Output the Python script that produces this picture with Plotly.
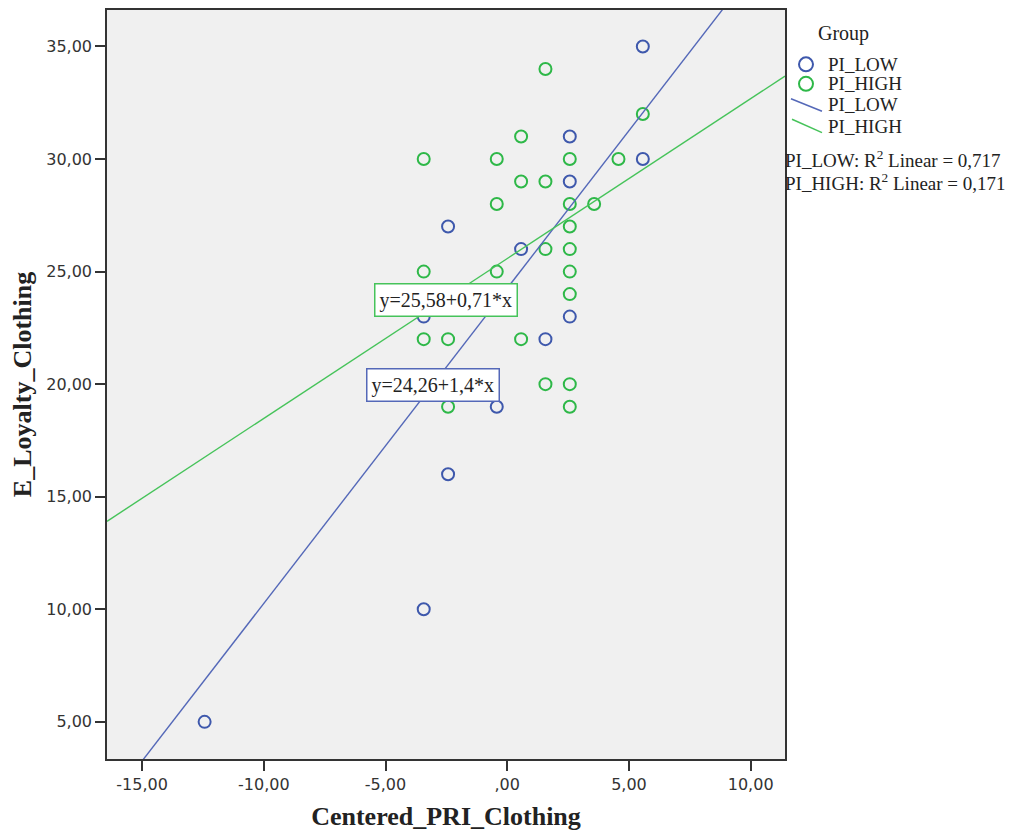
import plotly.graph_objects as go

# ---- data ----
low_x = [5.57, 5.57, 2.57, 2.57, 2.57, 0.57, 1.57, -2.43, -3.43, -0.43, -2.43, -3.43, -12.43]
low_y = [35, 30, 31, 29, 23, 26, 22, 27, 23, 19, 16, 10, 5]

high_x = [1.57, 5.57, 0.57, -3.43, -0.43, 2.57, 4.57, 0.57, 1.57, -0.43, 2.57, 3.57,
          2.57, 1.57, 2.57, -3.43, -0.43, 2.57, 2.57, -3.43, -2.43, 0.57, 1.57, 2.57,
          -2.43, 2.57]
high_y = [34, 32, 31, 30, 30, 30, 30, 29, 29, 28, 28, 28,
          27, 26, 26, 25, 25, 25, 24, 22, 22, 22, 20, 20,
          19, 19]

# regression coefficients (intercept, slope) and R^2
low_fit = (24.26, 1.4)
high_fit = (25.58, 0.71)
low_r2 = "0,717"
high_r2 = "0,171"
group_names = ["PI_LOW", "PI_HIGH"]

x_range = [-16.44, 11.41]
y_range = [3.35, 36.62]
x_ticks = [-15, -10, -5, 0, 5, 10]
x_tick_text = ["-15,00", "-10,00", "-5,00", ",00", "5,00", "10,00"]
y_ticks = [5, 10, 15, 20, 25, 30, 35]
y_tick_text = ["5,00", "10,00", "15,00", "20,00", "25,00", "30,00", "35,00"]

BLUE = "#3E58AC"
GREEN = "#2EB848"
BLUE_LINE = "#5468B8"
GREEN_LINE = "#46C35A"
SERIF = "Liberation Serif"
SANS = "DejaVu Sans"
TXT = "#222"

# page has an 8px body margin; figure sized to fit the window
W, H = 1013, 826
L, R, T, B = 99, 236, 0, 75
# plot area in screen pixels
PX0, PX1, PY0, PY1 = 107, 785, 8, 759


def px(x):
    return (x - PX0) / (PX1 - PX0)


def py(y):
    return 1 - (y - PY0) / (PY1 - PY0)


fig = go.Figure()
fig.add_trace(go.Scatter(x=low_x, y=low_y, mode="markers", name=group_names[0],
                         marker=dict(symbol="circle-open", size=12, color=BLUE,
                                     line=dict(width=2, color=BLUE))))
fig.add_trace(go.Scatter(x=high_x, y=high_y, mode="markers", name=group_names[1],
                         marker=dict(symbol="circle-open", size=12, color=GREEN,
                                     line=dict(width=2, color=GREEN))))

lx = [x_range[0], x_range[1]]
fig.add_trace(go.Scatter(x=lx, y=[low_fit[0] + low_fit[1] * v for v in lx],
                         mode="lines", name=group_names[0], line=dict(color=BLUE_LINE, width=1.4)))
fig.add_trace(go.Scatter(x=lx, y=[high_fit[0] + high_fit[1] * v for v in lx],
                         mode="lines", name=group_names[1], line=dict(color=GREEN_LINE, width=1.4)))

# equation labels
fig.add_annotation(x=-2.52, y=23.76, xref="x", yref="y", showarrow=False,
                   text="y=25,58+0,71*x", font=dict(family=SERIF, size=20, color=TXT),
                   bgcolor="white", bordercolor=GREEN_LINE, borderwidth=1.5, borderpad=4)
fig.add_annotation(x=-3.05, y=19.96, xref="x", yref="y", showarrow=False,
                   text="y=24,26+1,4*x", font=dict(family=SERIF, size=20, color=TXT),
                   bgcolor="white", bordercolor=BLUE_LINE, borderwidth=1.5, borderpad=4)

# ---- hand-drawn legend (glyphs as in the reference) ----
fig.add_annotation(x=px(816), y=py(32), xref="paper", yref="paper", showarrow=False,
                   text="Group", font=dict(family=SERIF, size=20, color=TXT),
                   xanchor="left", yanchor="middle")
leg_rows = [62.5, 82, 103, 125]
leg_labels = [group_names[0], group_names[1], group_names[0], group_names[1]]
for yy, lab in zip(leg_rows, leg_labels):
    fig.add_annotation(x=px(826), y=py(yy), xref="paper", yref="paper", showarrow=False,
                       text=lab, font=dict(family=SERIF, size=19, color=TXT),
                       xanchor="left", yanchor="middle")
for yy, col in zip(leg_rows[:2], [BLUE, GREEN]):
    fig.add_shape(type="circle", xref="paper", yref="paper",
                  x0=px(806 - 7), x1=px(806 + 7), y0=py(yy + 7), y1=py(yy - 7),
                  line=dict(color=col, width=2), fillcolor="rgba(0,0,0,0)")
for (x0, y0, x1, y1), col in zip([(791, 97, 822, 109.5), (792, 117.5, 822, 131)],
                                 [BLUE_LINE, GREEN_LINE]):
    fig.add_shape(type="line", xref="paper", yref="paper",
                  x0=px(x0), y0=py(y0), x1=px(x1), y1=py(y1),
                  line=dict(color=col, width=1.5))

# R^2 texts
fig.add_annotation(x=px(783), y=py(157), xref="paper", yref="paper", showarrow=False,
                   text=group_names[0] + ": R<sup>2</sup> Linear = " + low_r2,
                   font=dict(family=SERIF, size=19, color=TXT), xanchor="left", yanchor="middle")
fig.add_annotation(x=px(783), y=py(180), xref="paper", yref="paper", showarrow=False,
                   text=group_names[1] + ": R<sup>2</sup> Linear = " + high_r2,
                   font=dict(family=SERIF, size=19, color=TXT), xanchor="left", yanchor="middle")

axis_common = dict(showgrid=False, zeroline=False, showline=True, linecolor="#333",
                   linewidth=1.5, mirror=True, ticks="outside", ticklen=10, tickwidth=1.5,
                   tickcolor="#333", tickfont=dict(family=SANS, size=16, color="#333"))

fig.update_layout(
    width=W, height=H,
    margin=dict(l=L, r=R, t=T, b=B),
    plot_bgcolor="#F0F0F0", paper_bgcolor="white",
    xaxis=dict(range=x_range, tickvals=x_ticks, ticktext=x_tick_text,
               title=dict(text="<b>Centered_PRI_Clothing</b>",
                          font=dict(family=SERIF, size=26, color=TXT), standoff=14),
               **axis_common),
    yaxis=dict(range=y_range, tickvals=y_ticks, ticktext=y_tick_text,
               title=dict(text="<b>E_Loyalty_Clothing</b>",
                          font=dict(family=SERIF, size=26, color=TXT), standoff=12),
               **axis_common),
    showlegend=False,
)

fig.write_html("out.html")
